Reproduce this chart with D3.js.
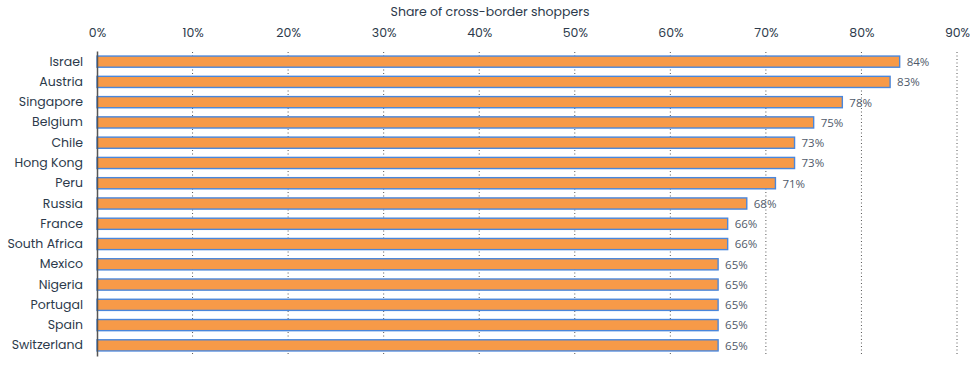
<!DOCTYPE html>
<html>
<head>
<meta charset="utf-8">
<script src="https://cdn.jsdelivr.net/npm/d3@7"></script>
<style>
  body { margin: 0; background: #fff; }
  svg { display: block; }
</style>
</head>
<body>
<svg id="chart" width="980" height="369"></svg>
<script>
"use strict"

// data
var countries = ["Israel", "Austria", "Singapore", "Belgium", "Chile", "Hong Kong", "Peru", "Russia",
    "France", "South Africa", "Mexico", "Nigeria", "Portugal", "Spain", "Switzerland"];
var shares = [84, 83, 78, 75, 73, 73, 71, 68, 66, 66, 65, 65, 65, 65, 65];
var xTicks = [0, 10, 20, 30, 40, 50, 60, 70, 80, 90];
var axisTitle = "Share of cross-border shoppers";

var margin = { top: 51, right: 23, bottom: 13, left: 97 };

var svg = d3.select("#chart"),
    width = +svg.attr("width") - margin.left - margin.right,
    height = +svg.attr("height") - margin.top - margin.bottom;

var g = svg.append("g")
    .attr("transform", "translate(" + margin.left + "," + margin.top + ")");

var xScale = d3.scaleLinear().domain([0, 90]).range([0, width]);
var yScale = d3.scaleBand().domain(countries).range([0, height])
    .paddingInner(0.45).paddingOuter(0.25);

var labelFont = "Poppins, Lato, 'Open Sans', sans-serif";

// gridlines (behind bars)
g.append("g")
    .selectAll("line")
    .data(xTicks.slice(1))
    .join("line")
    .attr("x1", d => xScale(d))
    .attr("x2", d => xScale(d))
    .attr("y1", 1)
    .attr("y2", height)
    .attr("stroke", "#555")
    .attr("stroke-width", 1)
    .attr("stroke-dasharray", "1,2.5");

// top axis
var xAxis = d3.axisTop(xScale)
    .tickValues(xTicks)
    .tickFormat(d => d + "%")
    .tickSize(0)
    .tickPadding(14);

var xg = g.append("g").call(xAxis);
xg.select(".domain").remove();
xg.selectAll("text")
    .style("font-family", labelFont)
    .style("font-size", "12.5px")
    .attr("fill", "#2c3a4b");

// title
svg.append("text")
    .attr("x", 490)
    .attr("y", 16)
    .attr("text-anchor", "middle")
    .style("font-family", labelFont)
    .style("font-size", "12.5px")
    .attr("fill", "#2c3a4b")
    .text(axisTitle);

// bars
g.append("g")
    .selectAll("rect")
    .data(countries)
    .join("rect")
    .attr("x", 0)
    .attr("y", d => yScale(d))
    .attr("width", (d, i) => xScale(shares[i]))
    .attr("height", yScale.bandwidth())
    .attr("fill", "#f79a48")
    .attr("stroke", "#4a87dc")
    .attr("stroke-width", 1.4);

// value labels
g.append("g")
    .selectAll("text")
    .data(countries)
    .join("text")
    .attr("x", (d, i) => xScale(shares[i]) + 7)
    .attr("y", d => yScale(d) + yScale.bandwidth() / 2)
    .attr("dy", "0.38em")
    .style("font-family", "'Open Sans', sans-serif")
    .style("font-size", "11.5px")
    .attr("fill", "#4f5a6a")
    .text((d, i) => shares[i] + "%");

// left axis
var yAxis = d3.axisLeft(yScale).tickSize(0).tickPadding(14);
var yg = g.append("g").call(yAxis);
yg.select(".domain")
    .attr("stroke", "#555")
    .attr("stroke-width", 1.5);
yg.selectAll("text")
    .style("font-family", labelFont)
    .style("font-size", "12.5px")
    .attr("fill", "#2c3a4b");
</script>
</body>
</html>
